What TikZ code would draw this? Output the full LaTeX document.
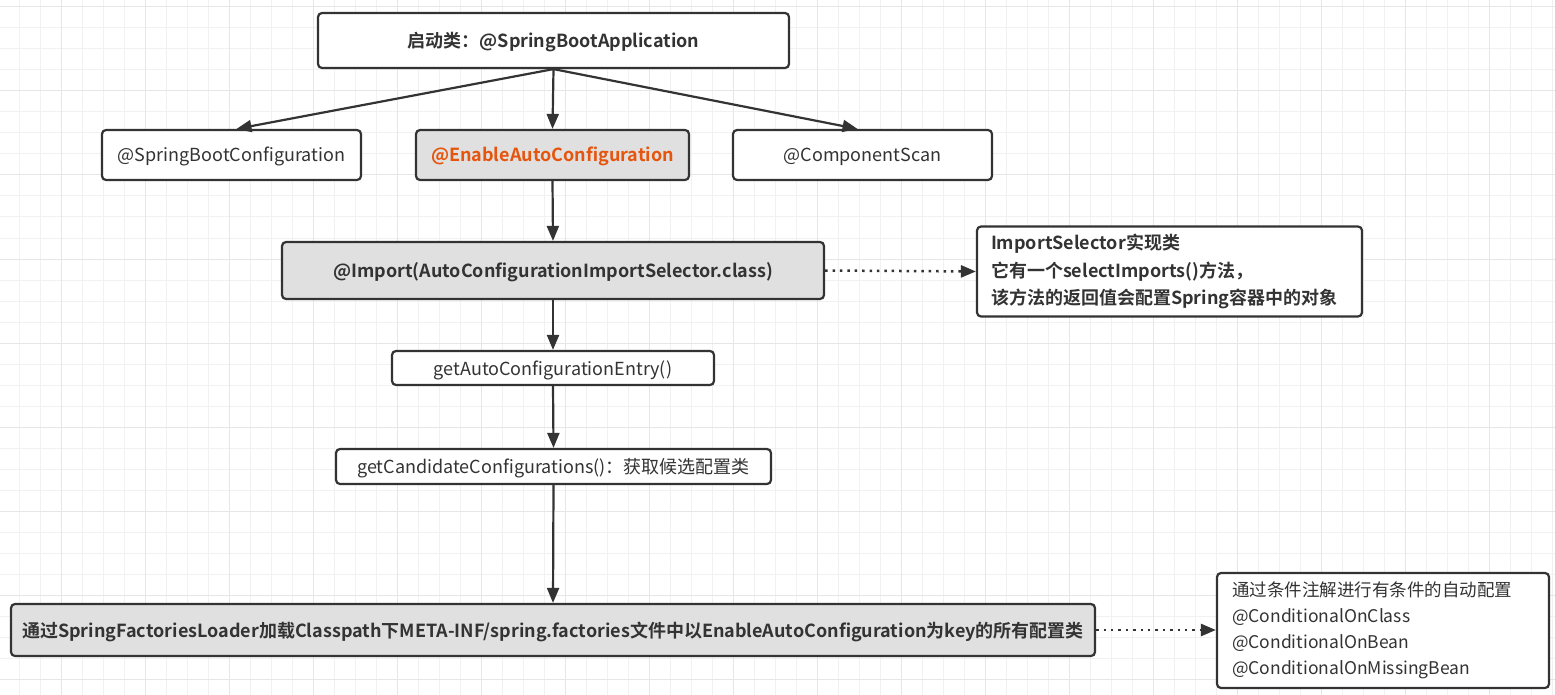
\documentclass[tikz,border=0pt]{standalone}
\usepackage{fontspec}
\setmainfont{Noto Sans CJK SC}[BoldFont={Noto Sans CJK SC Bold}]
\usetikzlibrary{arrows.meta,calc}
\definecolor{ink}{HTML}{333333}
\definecolor{boxfill}{HTML}{E0E0E0}
\definecolor{accent}{RGB}{230,85,13}
\definecolor{gridminor}{HTML}{F1F1F1}
\definecolor{gridmajor}{HTML}{E6E6E6}
\tikzset{
  box/.style={draw=ink, line width=2.2pt, rounded corners=4pt, fill=white,
    text=ink, inner sep=0pt, align=center, font=\fontsize{18}{20}\selectfont},
  oneline/.style={text height=15.5pt, text depth=1.5pt},
  grey/.style={fill=boxfill},
  heavy/.style={font=\fontsize{18}{20}\selectfont\bfseries},
  conn/.style={draw=ink, line width=2.2pt, -{Triangle[length=15pt,width=12pt]}},
  dotconn/.style={draw=ink, line width=2.5pt, dash pattern=on 2.5pt off 4.9pt,
    -{Triangle[length=15pt,width=12pt]}}
}
\begin{document}
\begin{tikzpicture}[x=1pt,y=-1pt]
\useasboundingbox (0,0) rectangle (1555,695);
\fill[white] (0,0) rectangle (1555,695);
% grid
\foreach \x in {19,40,...,1555} \draw[gridminor, line width=1pt] (\x,0) -- (\x,695);
\foreach \y in {7,28,...,695} \draw[gridminor, line width=1pt] (0,\y) -- (1555,\y);
\foreach \x in {61,145,...,1555} \draw[gridmajor, line width=1pt] (\x,0) -- (\x,695);
\foreach \y in {7,91,...,695} \draw[gridmajor, line width=1pt] (0,\y) -- (1555,\y);

\node[box, oneline, heavy, minimum width=471pt, minimum height=55pt] (top) at (553.5,40.5) {启动类：@SpringBootApplication};
\node[box, oneline, minimum width=259pt, minimum height=50pt] (sbc) at (231.5,155) {@SpringBootConfiguration};
\node[box, oneline, grey, heavy, text=accent, minimum width=273pt, minimum height=50pt] (eac) at (552.5,155) {@EnableAutoConfiguration};
\node[box, oneline, minimum width=259pt, minimum height=50pt] (cs) at (862.5,155) {@ComponentScan};
\node[box, oneline, grey, heavy, minimum width=542pt, minimum height=57pt] (imp) at (553,270.5) {@Import(AutoConfigurationImportSelector.class)};
\node[box, align=left, text width=357pt, inner xsep=14pt, minimum height=90pt,
  font=\fontsize{18}{27.5}\selectfont\bfseries] (sel) at (1169.5,271.5)
  {ImportSelector实现类\\它有一个selectImports()方法，\\该方法的返回值会配置Spring容器中的对象};
\node[box, oneline, minimum width=322pt, minimum height=34pt] (entry) at (553,368) {getAutoConfigurationEntry()};
\node[box, oneline, minimum width=435pt, minimum height=35pt] (cand) at (553.5,466.5) {getCandidateConfigurations()：获取候选配置类};
\node[box, oneline, grey, heavy, minimum width=1084pt, minimum height=52pt] (load) at (553,630)
  {通过SpringFactoriesLoader加载Classpath下META-INF/spring.factories文件中以EnableAutoConfiguration为key的所有配置类};
\node[box, align=left, text width=302pt, inner xsep=15pt, minimum height=115pt,
  font=\fontsize{17.5}{26}\selectfont] (cond) at (1383,630.5)
  {通过条件注解进行有条件的自动配置\\@ConditionalOnClass\\@ConditionalOnBean\\@ConditionalOnMissingBean};

\draw[conn] (top.south) -- ($(sbc.north)+(5,0)$);
\draw[conn] (top.south) -- (eac.north);
\draw[conn] (top.south) -- ($(cs.north)+(-5,0)$);
\draw[conn] (eac.south) -- (imp.north);
\draw[conn] (imp.south) -- (entry.north);
\draw[conn] (entry.south) -- (cand.north);
\draw[conn] (cand.south) -- (load.north);
\draw[dotconn] (imp.east) -- (sel.west);
\draw[dotconn] (load.east) -- (cond.west |- load.east);
\end{tikzpicture}
\end{document}
